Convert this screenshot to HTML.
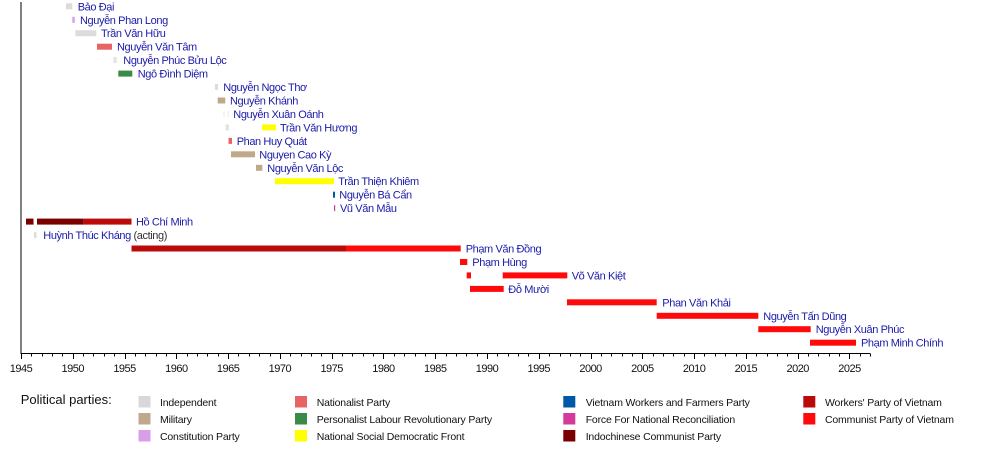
<!DOCTYPE html>
<html><head><meta charset="utf-8"><style>
html,body{margin:0;padding:0;background:#fff;}
svg{display:block;}
text{font-family:"Liberation Sans",Arial,"Noto Sans CJK SC",sans-serif;}
.lb{font-size:11px;letter-spacing:-0.4px;fill:#1a1aaa;}
.tk{font-size:11px;letter-spacing:-0.5px;fill:#111;}
.lg{font-size:10.5px;letter-spacing:-0.18px;fill:#111;}
</style></head><body>
<svg width="1000" height="453" viewBox="0 0 1000 453" xmlns="http://www.w3.org/2000/svg">
<rect width="1000" height="453" fill="#fff"/>
<!-- bars -->
<g>
<rect x="66" y="3.3" width="6.3" height="6" fill="#dcdcdc"/>
<rect x="72.3" y="16.8" width="2.5" height="6" fill="#d8a0e8"/>
<rect x="75.3" y="30.2" width="21" height="6" fill="#dcdcdc"/>
<rect x="97" y="43.7" width="15" height="6" fill="#e86464"/>
<rect x="113.3" y="57.1" width="3.4" height="6" fill="#e4e4e4"/>
<rect x="118.3" y="70.6" width="14" height="6" fill="#3a8a48"/>
<rect x="215" y="84" width="3" height="6" fill="#dcdcdc"/>
<rect x="217.7" y="97.5" width="7.6" height="6" fill="#c0a88c"/>
<rect x="223.5" y="110.9" width="1" height="6" fill="#e8e8e8"/>
<rect x="227.7" y="110.9" width="1" height="6" fill="#e8e8e8"/>
<rect x="225.5" y="124.4" width="3.5" height="6" fill="#e4e4e4"/>
<rect x="262" y="124.4" width="14" height="6" fill="#ffff00"/>
<rect x="228.5" y="137.9" width="3.5" height="6" fill="#e86464"/>
<rect x="231" y="151.3" width="24" height="6" fill="#c0a88c"/>
<rect x="256" y="164.8" width="6.3" height="6" fill="#c0a88c"/>
<rect x="275" y="178.2" width="59" height="6" fill="#ffff00"/>
<rect x="333" y="191.7" width="2" height="6" fill="#0058a8"/>
<rect x="334" y="205.1" width="1.2" height="6" fill="#d4399c"/>
<rect x="26" y="218.6" width="7.5" height="6" fill="#7a0000"/>
<rect x="37" y="218.6" width="46.7" height="6" fill="#7a0000"/>
<rect x="83.7" y="218.6" width="47.8" height="6" fill="#bb0a0a"/>
<rect x="34" y="232.1" width="2.5" height="6" fill="#dcdcdc"/>
<rect x="131.5" y="245.5" width="214.5" height="6" fill="#bb0a0a"/>
<rect x="346" y="245.5" width="114.7" height="6" fill="#ff0a0a"/>
<rect x="460" y="259" width="7.3" height="6" fill="#ff0a0a"/>
<rect x="466.7" y="272.4" width="4.3" height="6" fill="#ff0a0a"/>
<rect x="502.7" y="272.4" width="64.6" height="6" fill="#ff0a0a"/>
<rect x="470" y="285.9" width="33.7" height="6" fill="#ff0a0a"/>
<rect x="567" y="299.3" width="89.7" height="6" fill="#ff0a0a"/>
<rect x="656.7" y="312.8" width="101.6" height="6" fill="#ff0a0a"/>
<rect x="758.3" y="326.2" width="52.4" height="6" fill="#ff0a0a"/>
<rect x="810" y="339.7" width="46" height="6" fill="#ff0a0a"/>
</g>
<!-- labels -->
<g class="lb">
<text x="77.7" y="10.3">Bảo Đại</text>
<text x="80" y="23.8">Nguyễn Phan Long</text>
<text x="101" y="37.2">Trần Văn Hữu</text>
<text x="117" y="50.7">Nguyễn Văn Tâm</text>
<text x="123.3" y="64.1">Nguyễn Phúc Bửu Lộc</text>
<text x="137.7" y="77.6">Ngô Đình Diệm</text>
<text x="223.3" y="91">Nguyễn Ngọc Thơ</text>
<text x="230" y="104.5">Nguyễn Khánh</text>
<text x="233.3" y="117.9">Nguyễn Xuân Oánh</text>
<text x="280" y="131.4">Trần Văn Hương</text>
<text x="236.7" y="144.9">Phan Huy Quát</text>
<text x="259.3" y="158.3">Nguyen Cao Kỳ</text>
<text x="267.3" y="171.8">Nguyễn Văn Lộc</text>
<text x="338.3" y="185.2">Trần Thiện Khiêm</text>
<text x="339.3" y="198.7">Nguyễn Bá Cẩn</text>
<text x="340" y="212.1">Vũ Văn Mẫu</text>
<text x="136" y="225.6">Hồ Chí Minh</text>
<text x="43.3" y="239.1">Huỳnh Thúc Kháng<tspan fill="#333"> (acting)</tspan></text>
<text x="465.7" y="252.5">Phạm Văn Đồng</text>
<text x="472.3" y="266">Phạm Hùng</text>
<text x="571.7" y="279.4">Võ Văn Kiệt</text>
<text x="508.3" y="292.9">Đỗ Mười</text>
<text x="662.3" y="306.3">Phan Văn Khải</text>
<text x="763.3" y="319.8">Nguyễn Tấn Dũng</text>
<text x="815.7" y="333.2">Nguyễn Xuân Phúc</text>
<text x="861" y="346.7">Phạm Minh Chính</text>
</g>
<!-- axes -->
<line x1="21" y1="2" x2="21" y2="354" stroke="#000" stroke-width="1"/>
<line x1="20.5" y1="353.5" x2="870" y2="353.5" stroke="#000" stroke-width="1"/>
<g id="ticks" stroke="#000" stroke-width="1"></g>
<g id="tl" class="tk" text-anchor="middle"></g>
<!-- legend -->
<text x="20.7" y="404" style="font-size:13px;fill:#111;">Political parties:</text>
<g>
<rect x="138.5" y="396" width="12" height="11.5" fill="#d8d8d8"/>
<rect x="138.5" y="413" width="12" height="11.5" fill="#c0a88c"/>
<rect x="138.5" y="430" width="12" height="11.5" fill="#d89ee8"/>
<rect x="295" y="396" width="12" height="11.5" fill="#e86464"/>
<rect x="295" y="413" width="12" height="11.5" fill="#3a8a48"/>
<rect x="295" y="430" width="12" height="11.5" fill="#ffff00"/>
<rect x="563.3" y="396" width="12" height="11.5" fill="#0058a8"/>
<rect x="563.3" y="413" width="12" height="11.5" fill="#d4399c"/>
<rect x="563.3" y="430" width="12" height="11.5" fill="#7a0000"/>
<rect x="803.3" y="396" width="12" height="11.5" fill="#bb0a0a"/>
<rect x="803.3" y="413" width="12" height="11.5" fill="#ff0a0a"/>
</g>
<g class="lg">
<text x="160" y="406">Independent</text>
<text x="160" y="423">Military</text>
<text x="160" y="440">Constitution Party</text>
<text x="316.7" y="406">Nationalist Party</text>
<text x="316.7" y="423">Personalist Labour Revolutionary Party</text>
<text x="316.7" y="440">National Social Democratic Front</text>
<text x="585.7" y="406">Vietnam Workers and Farmers Party</text>
<text x="585.7" y="423">Force For National Reconciliation</text>
<text x="585.7" y="440">Indochinese Communist Party</text>
<text x="825" y="406">Workers' Party of Vietnam</text>
<text x="825" y="423">Communist Party of Vietnam</text>
</g>
<script>
(function(){
var ns="http://www.w3.org/2000/svg";
var g=document.getElementById("ticks"),t=document.getElementById("tl");
for(var y=1945;y<=2027;y++){
 var x=21+(y-1945)*10.356;
 var px=Math.round(x)+0.5;
 var l=document.createElementNS(ns,"line");
 var major=(y%5===0);
 l.setAttribute("x1",px);l.setAttribute("x2",px);
 l.setAttribute("y1",353.5);l.setAttribute("y2",major?359:356.5);
 g.appendChild(l);
 if(major){
  var tx=document.createElementNS(ns,"text");
  tx.setAttribute("x",x);tx.setAttribute("y",372);
  tx.textContent=String(y);t.appendChild(tx);
 }
}
})();
</script>
</svg>
</body></html>
